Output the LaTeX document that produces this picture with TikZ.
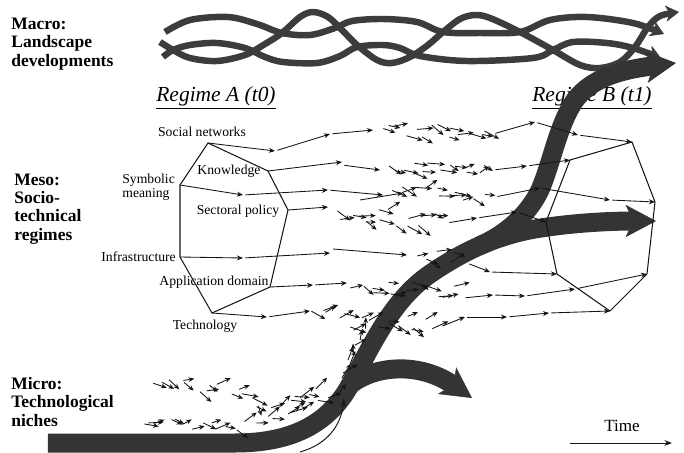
\documentclass[tikz,border=0pt]{standalone}
\usepackage{fontspec}
\setmainfont{Liberation Serif}
\usepackage{tikz}
\usetikzlibrary{arrows.meta,positioning}

\definecolor{landcol}{RGB}{60,60,60}
\definecolor{nichecol}{RGB}{52,52,52}
\definecolor{inkcol}{RGB}{20,20,20}

\tikzset{
  levellabel/.style={font=\fontsize{9.2}{9.6}\selectfont\bfseries,align=left,anchor=west,inner sep=0pt},
  dimlabel/.style={font=\fontsize{7.2}{7.2}\selectfont,inner sep=0pt},
  regimelabel/.style={font=\fontsize{11.3}{13}\selectfont\itshape,inner sep=0pt},
  strand/.style={line width=3.4pt,landcol,-{Stealth[length=7pt,width=8.5pt,inset=2pt,line width=0.3pt]}},
  nicheband/.style={line width=10pt,nichecol,-{Stealth[length=16pt,width=17pt,inset=4pt,line width=0.3pt]}},
  regedge/.style={line width=0.55pt,inkcol},
  flow/.style={line width=0.45pt,inkcol,-{Stealth[length=3.2pt,width=2.6pt]}},
  mini/.style={line width=0.45pt,inkcol,-{Stealth[length=3pt,width=2.5pt]}},
  pusharrow/.style={line width=0.5pt,inkcol,-{Stealth[length=4pt,width=3pt]}},
}

% chain of arrows through x/y points
\newcommand{\flowrow}[1]{%
  \foreach \fx/\fy [count=\fk] in {#1}{%
    \ifnum\fk>1 \draw[flow,shorten <=1.3pt] (\fpx,\fpy) -- (\fx,\fy);\fi
    \xdef\fpx{\fx}\xdef\fpy{\fy}}}
% loose cloud of small arrows from (#1,#2) to (#3,#4)
\newcommand{\swarm}[6]{%
  \foreach \i in {1,...,#5}{%
    \pgfmathsetmacro{\swx}{#1+(#3-#1)*(\i-0.5)/#5+5*rand}%
    \pgfmathsetmacro{\swy}{#2+(#4-#2)*(\i-0.5)/#5+#6*rand}%
    \pgfmathsetmacro{\swa}{atan2(#4-#2,#3-#1)+38*rand}%
    \pgfmathsetmacro{\swl}{14+4*rand}%
    \draw[mini] (\swx,\swy) -- ++(\swa:\swl);}}

\begin{document}
\begin{tikzpicture}[x=0.0185cm,y=-0.0185cm]
  \useasboundingbox (0,0) rectangle (684,452);
  \pgfmathsetseed{11}

  % Landscape: three braided strands
  \draw[strand] plot[smooth,tension=0.55] coordinates {(165,32) (190,20) (228,17) (257,24) (282,33) (310,35) (335,28) (352,21) (383,19) (417,22) (443,32) (480,33) (520,32) (550,20) (587,17) (633,23) (664,34)};
  \draw[strand] plot[smooth,tension=0.55] coordinates {(160,42) (173,50) (190,58) (217,61) (245,55) (265,44) (282,33) (300,17) (313,12) (328,17) (342,30) (357,45) (377,60) (392,63) (410,57) (428,45) (443,32) (460,19) (475,15) (490,18) (520,32) (553,50) (580,65) (600,68) (620,62) (635,47) (648,27) (660,16) (679,12)};
  \draw[strand] plot[smooth,tension=0.55] coordinates {(163,57) (173,50) (190,45) (217,43) (245,48) (265,57) (283,62) (317,63) (340,56) (357,47) (383,45) (400,48) (420,56) (467,61) (533,58) (553,50) (573,42) (607,43) (633,48) (661,58)};

  % Level names
  \node[levellabel] (macro) at (11,44) {Macro:\\Landscape\\developments};
  \node[levellabel] (meso) at (14,209) {Meso:\\Socio-\\technical\\regimes};
  \node[levellabel] (micro) at (11,402) {Micro:\\Technological\\niches};

  % Regime titles
  \node[regimelabel] (regA) at (216,98) {\underline{Regime A (t0)}};
  \node[regimelabel] (regB) at (592,98) {\underline{Regime B (t1)}};

  % Regime corners
  \coordinate (A-sn) at (208,143);
  \coordinate (A-k) at (268,171);
  \coordinate (A-sp) at (288,210);
  \coordinate (A-ad) at (270,287);
  \coordinate (A-t) at (212,313);
  \coordinate (A-inf) at (180,257);
  \coordinate (A-sm) at (180,185);
  \coordinate (B-top) at (632,142);
  \coordinate (B-r) at (655,202);
  \coordinate (B-lr) at (647,274);
  \coordinate (B-b) at (610,311);
  \coordinate (B-ll) at (557,274);
  \coordinate (B-l) at (546,222);
  \coordinate (B-ul) at (570,160);

  % Dimension labels
  \node[dimlabel] (lab-sn) at (202,132) {Social networks};
  \node[dimlabel] (lab-k) at (229,171) {Knowledge};
  \node[dimlabel,align=left,anchor=west] (lab-sm) at (122,187) {Symbolic\\meaning};
  \node[dimlabel] (lab-sp) at (238,211) {Sectoral policy};
  \node[dimlabel,left=2pt of A-inf] (lab-inf) {Infrastructure};
  \node[dimlabel] (lab-ad) at (214,282) {Application domain};
  \node[dimlabel] (lab-t) at (205,326) {Technology};

  % Niche trajectory (big arrows)
  \draw[nicheband] (48,443) -- (235,443) .. controls (290,443) and (328,425) .. (350,385)
    .. controls (372,345) and (392,300) .. (430,274) .. controls (462,252) and (495,236) .. (535,229)
    .. controls (570,223) and (610,221) .. (656,221);
  \draw[nicheband] (479,246) .. controls (505,235) and (528,215) .. (540,190)
    .. controls (552,162) and (558,125) .. (575,100) .. controls (592,78) and (620,70) .. (676,63);
  \draw[nicheband] (350,385) .. controls (375,365) and (420,362) .. (472,398);

  % Regime polygons
  \draw[regedge] (A-sn) -- (A-k) -- (A-sp) -- (A-ad) -- (A-t) -- (A-inf) -- (A-sm) -- cycle;
  \draw[regedge] (B-top) -- (B-r) -- (B-lr) -- (B-b) -- (B-ll) -- (B-l) -- (B-ul) -- cycle;

  % Social networks -> top
  \draw[flow] (A-sn) -- (275,151);
  \flowrow{275/151,330/134,373/130}
  \swarm{376}{128}{490}{134}{14}{8}
  \flowrow{493/134,535/122,578/135}
  \draw[flow,shorten <=1.3pt] (578,135) -- (B-top);
  % Knowledge -> upper left
  \draw[flow] (A-k) -- (342,162);
  \flowrow{342/165,380/170}
  \swarm{382}{167}{488}{170}{14}{7}
  \flowrow{493/170,527/166}
  \draw[flow,shorten <=1.3pt] (527,166) -- (B-ul);
  % Symbolic meaning -> right
  \draw[flow] (A-sm) -- (243,195);
  \flowrow{243/195,328/190,383/195}
  \draw[flow] (360,200) -- (403,193);
  \swarm{386}{192}{488}{196}{12}{6}
  \flowrow{495/197,540/188,610/200}
  \draw[flow,shorten <=1.3pt] (610,200) -- (B-r);
  % Sectoral policy -> left
  \draw[flow] (A-sp) -- (328,207);
  \swarm{332}{212}{442}{222}{16}{9}
  \flowrow{447/223,477/218,517/212}
  \draw[flow,shorten <=1.3pt] (517,212) -- (B-l);
  % Infrastructure -> lower left
  \draw[flow] (A-inf) -- (243,258);
  \flowrow{243/258,330/253}
  \draw[flow] (333,249) -- (407,255);
  \swarm{410}{255}{462}{258}{6}{6}
  \flowrow{467/263,490/272}
  \draw[flow,shorten <=1.3pt] (490,272) -- (B-ll);
  % Application domain -> lower right
  \draw[flow] (A-ad) -- (313,285);
  \flowrow{313/285,347/283}
  \swarm{350}{284}{455}{292}{14}{8}
  \flowrow{463/298,493/295,525/296,575/289}
  \draw[flow,shorten <=1.3pt] (575,289) -- (B-lr);
  % Technology -> bottom
  \draw[flow] (A-t) -- (267,317);
  \flowrow{267/317,310/311}
  \swarm{313}{318}{435}{328}{18}{10}
  \flowrow{440/327,465/317,507/317,549/313}
  \draw[flow,shorten <=1.3pt] (549,313) -- (B-b);

  % Niche experiments
  \swarm{150}{382}{240}{392}{11}{6}
  \swarm{240}{392}{262}{412}{4}{4}
  \swarm{265}{404}{325}{392}{7}{6}
  \swarm{138}{422}{240}{427}{12}{5}
  \swarm{245}{425}{330}{395}{10}{5}
  \swarm{333}{392}{365}{328}{9}{4}
  \coordinate (push-a) at (300,452);
  \coordinate (push-b) at (344,399);
  \draw[pusharrow] (push-a) .. controls (328,444) and (341,425) .. (push-b);

  % Time axis
  \coordinate (time-a) at (570,443);
  \coordinate (time-b) at (672,443);
  \coordinate (time-mid) at (622,443);
  \draw[pusharrow] (time-a) -- (time-b);
  \node[font=\fontsize{9}{10}\selectfont,inner sep=0pt,above=6pt of time-mid] (time) {Time};
\end{tikzpicture}
\end{document}
